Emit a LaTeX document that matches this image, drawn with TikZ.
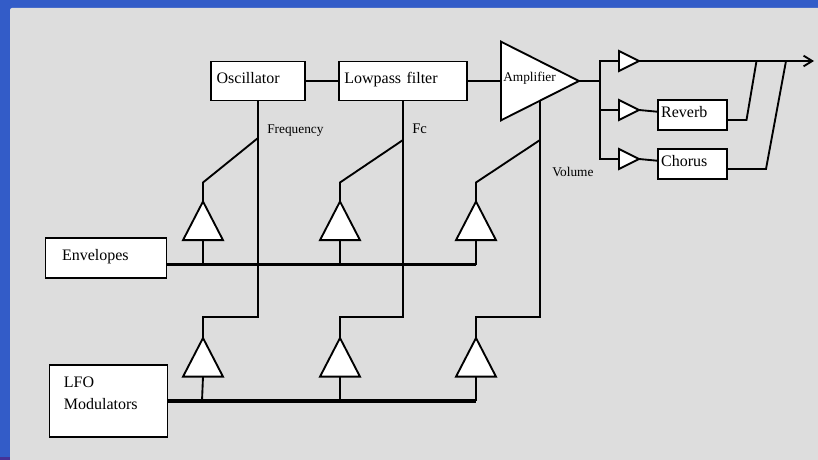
\documentclass[tikz,border=0pt]{standalone}
\usepackage{fontspec}
\setmainfont{Liberation Serif}
\usetikzlibrary{positioning,calc}
\usetikzlibrary{arrows.meta,shapes.geometric}
\definecolor{SlideBlue}{RGB}{51,92,200}
\definecolor{PanelGray}{RGB}{221,221,221}
\definecolor{CornerPurple}{RGB}{70,50,150}
\tikzset{
  wire/.style={draw=black,line width=1.4pt},
  bus/.style={draw=black,line width=2.4pt},
  box/.style={draw=black,fill=white,line width=1.4pt,inner xsep=#1,inner ysep=0pt,
    align=left,text height=8pt,text depth=3.8pt,font=\fontsize{12}{16.3}\selectfont},
  amp/.style={isosceles triangle,isosceles triangle stretches,draw=black,fill=white,
    line width=1.4pt,inner sep=0pt,outer sep=0pt},
  upamp/.style={amp,shape border rotate=90,minimum width=30pt,minimum height=29pt,anchor=apex},
  sideamp/.style={amp,minimum width=15pt,minimum height=15pt,anchor=apex},
  lbl/.style={anchor=west,inner sep=0pt,font=\fontsize{10}{12}\selectfont},
}
\begin{document}
\begin{tikzpicture}[x=0.75pt,y=-0.75pt]
\useasboundingbox (0,0) rectangle (818,460);
\fill[SlideBlue] (0,0) rectangle (818,460);
\fill[CornerPurple] (0,457) rectangle (10,460);
\fill[PanelGray,rounded corners=1.5pt] (10,8) rectangle (830,470);
% main signal path
\node[box=4pt,minimum width=69.75pt,minimum height=29.25pt,text width=62pt] (osc) at (258,81) {Oscillator};
\node[box=3.75pt,minimum width=96pt,minimum height=29.25pt,text width=88pt] (lpf) at (403,81) {Lowpass filter};
\node[amp,minimum width=59pt,minimum height=58.5pt,anchor=apex] (vca) at (579,81) {};
\node[lbl] (vcatext) at (503,78) {Amplifier};
\node[box=2.25pt,minimum width=51.75pt,minimum height=22.5pt,text width=47pt] (rev) at (692.5,115) {Reverb};
\node[box=2.25pt,minimum width=51.75pt,minimum height=22.5pt,text width=47pt] (cho) at (692.5,164) {Chorus};
\node[sideamp] (dry) at (639,61) {};
\node[sideamp] (wet1) at (639,110) {};
\node[sideamp] (wet2) at (639,159) {};
% modulation sources
\node[box=12pt,minimum width=90.75pt,minimum height=30pt,text width=66pt] (env) at (106,258) {Envelopes};
\node[box=10.5pt,minimum width=88.5pt,minimum height=54pt,text width=67pt,text depth=28pt] (lfo) at (108.5,401) {LFO\\Modulators};
\node[upamp] (ea1) at (203,201.5) {};
\node[upamp] (ea2) at (340,201.5) {};
\node[upamp] (ea3) at (476,201.5) {};
\node[upamp] (la1) at (203,338) {};
\node[upamp] (la2) at (340,338) {};
\node[upamp] (la3) at (476,338) {};
\node[lbl] (freq) at (267,131) {Frequency};
\node[lbl,font=\fontsize{11}{13}\selectfont] (fc) at (412,129) {Fc};
\node[lbl] (vol) at (552,172) {Volume};
\coordinate (split) at (600,81);
\coordinate (out) at (814,61);
\coordinate (volin) at (540,100);
\coordinate (fq) at (258,317);
\coordinate (fcq) at (403,317);
\coordinate (vq) at (540,317);
\coordinate (bend1) at (203,182.5);
\coordinate (bend2) at (340,182.5);
\coordinate (bend3) at (476,182.5);
\coordinate (busa) at (476,264.5);
\coordinate (busb) at (476,401);
% audio wires
\draw[wire] (osc) -- (lpf);
\draw[wire] (lpf) -- (vca.lower side);
\draw[wire] (vca.apex) -- (split);
\draw[wire] (dry.lower side) -| (split) |- (wet2.lower side);
\draw[wire] (split) |- (wet1.lower side);
\draw[wire] (wet1.apex) -- (rev);
\draw[wire] (wet2.apex) -- (cho);
\draw[wire,-{Straight Barb[length=6.5pt,width=8pt]}] (dry.apex) -- (out);
\draw[wire] (rev.east |- 0,120) -- (746.5,120) -- (756.5,61);
\draw[wire] (cho.east |- 0,169) -- (766,169) -- (786,61);
% control wires
\draw[wire] (osc.south) -- (fq) -| (la1.apex);
\draw[wire] (lpf.south) -- (fcq) -| (la2.apex);
\draw[wire] (volin) -- (vq) -| (la3.apex);
\draw[wire] (ea1.apex) -- (bend1) -- (258,138);
\draw[wire] (ea2.apex) -- (bend2) -- (403,140);
\draw[wire] (ea3.apex) -- (bend3) -- (540,140);
\draw[bus] (env.east |- busa) -- (busa);
\draw[bus] (lfo.east |- busb) -- (busb);
\draw[wire] (ea1.lower side) -- (ea1.lower side |- busa);
\draw[wire] (ea2.lower side) -- (ea2.lower side |- busa);
\draw[wire] (ea3.lower side) -- (busa);
\draw[wire] (la1.lower side) -- (202,401);
\draw[wire] (la2.lower side) -- (la2.lower side |- busb);
\draw[wire] (la3.lower side) -- (busb);
\end{tikzpicture}
\end{document}
